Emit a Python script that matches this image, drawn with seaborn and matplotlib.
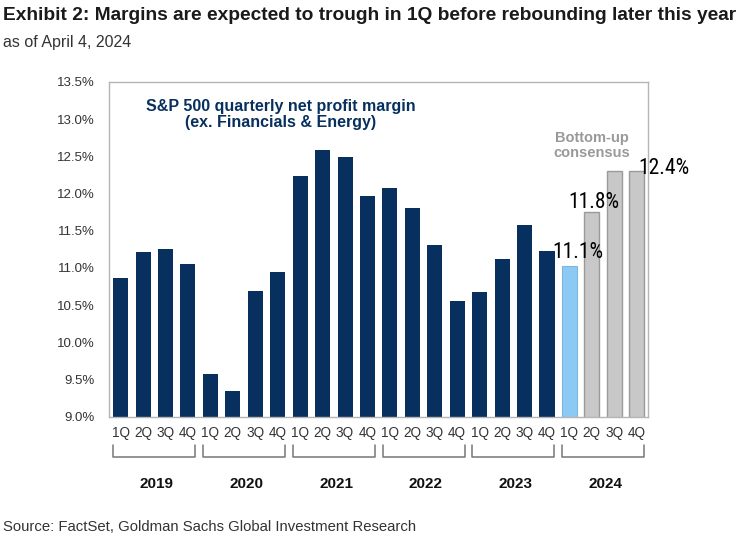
import matplotlib
matplotlib.use("Agg")
import matplotlib.pyplot as plt
import matplotlib.transforms as mtransforms
from matplotlib import font_manager
import numpy as np
import pandas as pd
import seaborn as sns

# Chart data
years = ["2019", "2020", "2021", "2022", "2023", "2024"]
quarters = ["1Q", "2Q", "3Q", "4Q"]
margins = [
    10.87, 11.21, 11.26, 11.05,   # 2019
    9.57, 9.35, 10.69, 10.95,     # 2020
    12.23, 12.59, 12.49, 11.96,   # 2021
    12.07, 11.80, 11.31, 10.56,   # 2022
    10.68, 11.12, 11.57, 11.23,   # 2023
    11.02, 11.75, 12.30, 12.30,   # 2024 (1Q estimate, rest consensus)
]
kinds = ["actual"] * 20 + ["current"] + ["consensus"] * 3
value_labels = ["11.1%", "11.8%", "12.4%"]
yticks = [9.0, 9.5, 10.0, 10.5, 11.0, 11.5, 12.0, 12.5, 13.0, 13.5]

NAVY = "#07305f"
LIGHT_BLUE = "#8ccaf5"
GREY = "#c8c8c8"

df = pd.DataFrame({
    "pos": np.arange(len(margins)),
    "margin": margins,
    "kind": kinds,
})

sns.set_theme(style="white")
plt.rcParams["font.family"] = ["Liberation Sans", "DejaVu Sans"]

# pick a narrow face for the big value labels if one is around
installed = {f.name for f in font_manager.fontManager.ttflist}
narrow = [n for n in ["Roboto Condensed", "Liberation Sans Narrow",
                      "DejaVu Sans Condensed", "Roboto"] if n in installed]
label_font = narrow[:1] + ["DejaVu Sans"]

fig = plt.figure(figsize=(7.43, 5.39), dpi=100)
ax = fig.add_axes([0.1467, 0.227, 0.7254, 0.621])

sns.barplot(
    data=df, x="pos", y="margin", hue="kind",
    palette={"actual": NAVY, "current": LIGHT_BLUE, "consensus": GREY},
    width=0.67, dodge=False, legend=False, saturation=1, ax=ax,
)
# outline the forecast bars like the original
for patch, kind in zip(ax.patches, kinds):
    if kind == "consensus":
        patch.set_edgecolor("#9a9a9a")
        patch.set_linewidth(1.0)
    elif kind == "current":
        patch.set_edgecolor("#7fb6df")
        patch.set_linewidth(0.8)
    else:
        patch.set_linewidth(0)

ax.set_ylim(9.0, 13.5)
ax.set_xlim(-0.52, 23.5)
ax.set_yticks(yticks)
ax.set_yticklabels([f"{v:.1f}%" for v in yticks], fontsize=9.5, color="#333333")
ax.set_xticks(df["pos"])
ax.set_xticklabels(quarters * len(years), fontsize=9.8, color="#333333")
ax.tick_params(axis="both", length=0)
ax.tick_params(axis="x", pad=7)
ax.tick_params(axis="y", pad=10)
ax.set_xlabel("")
ax.set_ylabel("")
for side in ax.spines.values():
    side.set_visible(True)
    side.set_color("#b5b5b5")
    side.set_linewidth(1.0)

# year brackets under the quarter labels
trans = mtransforms.blended_transform_factory(ax.transData, ax.transAxes)
for i, yr in enumerate(years):
    x0, x1 = 4 * i - 0.33, 4 * i + 3.33
    ax.plot([x0, x0, x1, x1], [-0.085, -0.122, -0.122, -0.085],
            color="#777777", lw=1.1, transform=trans, clip_on=False)
    ax.text(4 * i + 1.6, -0.2, yr, transform=trans, ha="center", va="center",
            fontsize=11, fontweight="bold", color="#111111")

# annotations inside the plot
ax.text(0.318, 0.95, "S&P 500 quarterly net profit margin\n(ex. Financials & Energy)",
        transform=ax.transAxes, ha="center", va="top", fontsize=11.5,
        fontweight="bold", color=NAVY, linespacing=1.1)
ax.text(21.0, 12.64, "Bottom-up\nconsensus", ha="center", va="center",
        fontsize=10.5, fontweight="bold", color="#999999", linespacing=1.1)

for xpos, ypos, txt in zip([20.37, 21.08, 24.2], [11.21, 11.88, 12.33], value_labels):
    ax.text(xpos, ypos, txt, ha="center", va="center", fontsize=15.5,
            family=label_font, color="black", clip_on=False)

fig.text(0.004, 0.972, "Exhibit 2: Margins are expected to trough in 1Q before rebounding later this year",
         ha="left", va="center", fontsize=13.8, fontweight="bold", color="#1a1a1a")
fig.text(0.004, 0.922, "as of April 4, 2024", ha="left", va="center",
         fontsize=11.5, color="#333333")
fig.text(0.004, 0.022, "Source: FactSet, Goldman Sachs Global Investment Research",
         ha="left", va="center", fontsize=10.7, color="#333333")

fig.savefig("out.png", dpi=100)
